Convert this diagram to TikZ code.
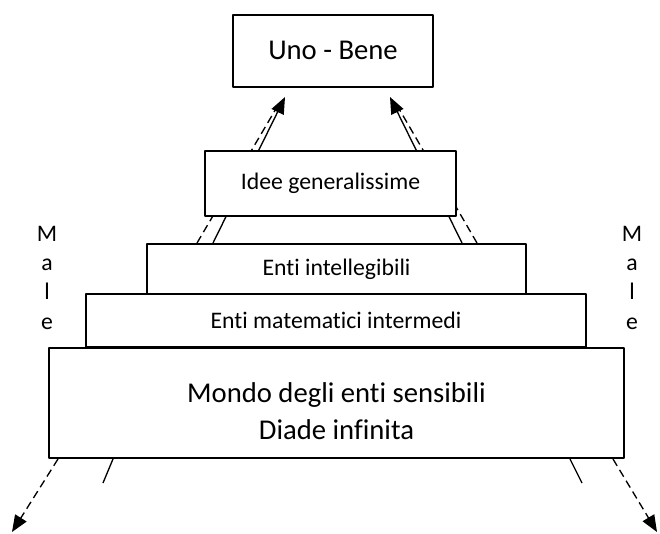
\documentclass[tikz,border=0pt]{standalone}
\usepackage{fontspec}
\setmainfont{Carlito}[Ligatures={NoCommon}]
\usetikzlibrary{arrows.meta}
\begin{document}
\begin{tikzpicture}[x=0.75pt, y=-0.75pt, line join=round, >={Triangle[length=12.5pt,width=10pt]},
	livello/.style={draw, line width=1.1pt, fill=white, inner sep=0pt},
	piccolo/.style={font=\fontsize{17.8}{22}\selectfont},
	grande/.style={font=\fontsize{21.5}{27.75}\selectfont},
	linea/.style={line width=1pt},
	tratto/.style={line width=1pt, dash pattern=on 6pt off 3.5pt}]
	\useasboundingbox (0,0) rectangle (660,533);
	\coordinate (bsl) at (213,243); \coordinate (tsl) at (285,97);
	\coordinate (bdl) at (197,243); \coordinate (tdl) at (277,107);
	\coordinate (bsr) at (462,243); \coordinate (tsr) at (390,97);
	\coordinate (bdr) at (477,243); \coordinate (tdr) at (398,107);
	\coordinate (msl) at (113,459); \coordinate (esl) at (103,483);
	\coordinate (mdl) at (58,459);  \coordinate (edl) at (12,532);
	\coordinate (msr) at (570,459); \coordinate (esr) at (582,483);
	\coordinate (mdr) at (613,459); \coordinate (edr) at (657,532);
	\draw[tratto] (bdl) -- (tdl);
	\draw[tratto] (bdr) -- (tdr);
	\draw[linea,->] (bsl) -- (tsl);
	\draw[linea,->] (bsr) -- (tsr);
	\draw[linea] (msl) -- (esl);
	\draw[linea] (msr) -- (esr);
	\draw[tratto,->] (mdl) -- (edl);
	\draw[tratto,->] (mdr) -- (edr);
	\node[livello, grande, minimum width=150pt, minimum height=54pt] (uno) at (333,51) {Uno - Bene\rule[-1.5pt]{0pt}{0pt}};
	\node[livello, piccolo, minimum width=188.25pt, minimum height=48.75pt] (idee) at (330.5,183.5) {Idee generalissime};
	\node[livello, piccolo, minimum width=284.25pt, minimum height=37.5pt] (intel) at (336.5,269) {Enti intellegibili};
	\node[livello, piccolo, minimum width=375pt, minimum height=39.75pt] (mate) at (336,320.5) {Enti matematici intermedi};
	\node[livello, grande, minimum width=431.25pt, minimum height=82.5pt, align=center] (mondo) at (336.5,403) {\rule{0pt}{27.75pt}Mondo degli enti sensibili\\Diade infinita};
	\node[piccolo, align=center, inner sep=0pt] (malesx) at (47,277.5) {M\\a\\l\\e};
	\node[piccolo, align=center, inner sep=0pt] (maledx) at (632,277.5) {M\\a\\l\\e};
\end{tikzpicture}
\end{document}
